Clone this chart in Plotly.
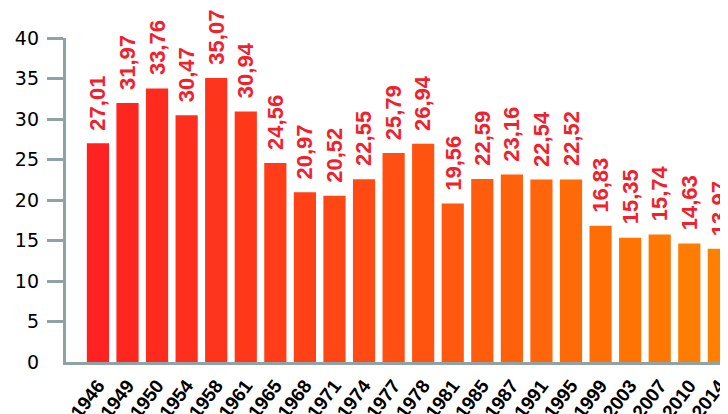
import plotly.graph_objects as go

years = ["1946", "1949", "1950", "1954", "1958", "1961", "1965", "1968", "1971", "1974", "1977",
         "1978", "1981", "1985", "1987", "1991", "1995", "1999", "2003", "2007", "2010", "2014"]
values = [27.01, 31.97, 33.76, 30.47, 35.07, 30.94, 24.56, 20.97, 20.52, 22.55, 25.79,
          26.94, 19.56, 22.59, 23.16, 22.54, 22.52, 16.83, 15.35, 15.74, 14.63, 13.97]
y_ticks = [0, 5, 10, 15, 20, 25, 30, 35, 40]

# colour gradient red -> orange across the bars
c0 = (255, 34, 34)
c1 = (255, 128, 0)
n = len(values)
colors = []
for i in range(n):
    t = i / (n - 1)
    r = round(c0[0] + (c1[0] - c0[0]) * t)
    g = round(c0[1] + (c1[1] - c0[1]) * t)
    b = round(c0[2] + (c1[2] - c0[2]) * t)
    colors.append(f"rgb({r},{g},{b})")

AXIS = "#8fa2a5"
LABEL_RED = "#f0202c"

fig = go.Figure()
fig.add_trace(go.Bar(x=years, y=values, marker=dict(color=colors, line=dict(width=0)),
                     hoverinfo="skip"))
fig.add_trace(go.Scatter(x=[], y=[], yaxis="y2", showlegend=False))

for i, v in enumerate(values):
    fig.add_annotation(x=i, y=v, xref="x", yref="y", text=f"{v:.2f}".replace(".", ","),
                       textangle=-90, showarrow=False, xanchor="center", yanchor="bottom",
                       yshift=11,
                       font=dict(family="Liberation Sans", size=22, color=LABEL_RED, weight="bold"))

fig.update_layout(
    width=728, height=414,
    margin=dict(l=58, r=0, t=30, b=60),
    paper_bgcolor="white", plot_bgcolor="white",
    showlegend=False,
    bargap=0.25,
    xaxis=dict(type="category", range=[-1.08, 21.58], showline=True, linecolor=AXIS, linewidth=3,
               ticks="", tickangle=-53, showgrid=False, zeroline=False, automargin=False,
               tickfont=dict(family="Liberation Sans", size=19, color="black", weight="bold"),
               ticklabelstandoff=2),
    yaxis=dict(range=[0, 40], tickvals=y_ticks[1:], showticklabels=False, ticks="outside",
               ticklen=16, tickwidth=3, tickcolor=AXIS, showline=True, linecolor=AXIS, linewidth=3,
               showgrid=False, zeroline=False, automargin=False),
    yaxis2=dict(range=[0, 40], overlaying="y", side="left", tickvals=y_ticks,
                ticktext=[str(t) for t in y_ticks], ticks="", showline=False, showgrid=False,
                zeroline=False, ticklabelstandoff=26, automargin=False,
                tickfont=dict(family="DejaVu Sans", size=19, color="black")),
)

fig.write_html("out.html")
